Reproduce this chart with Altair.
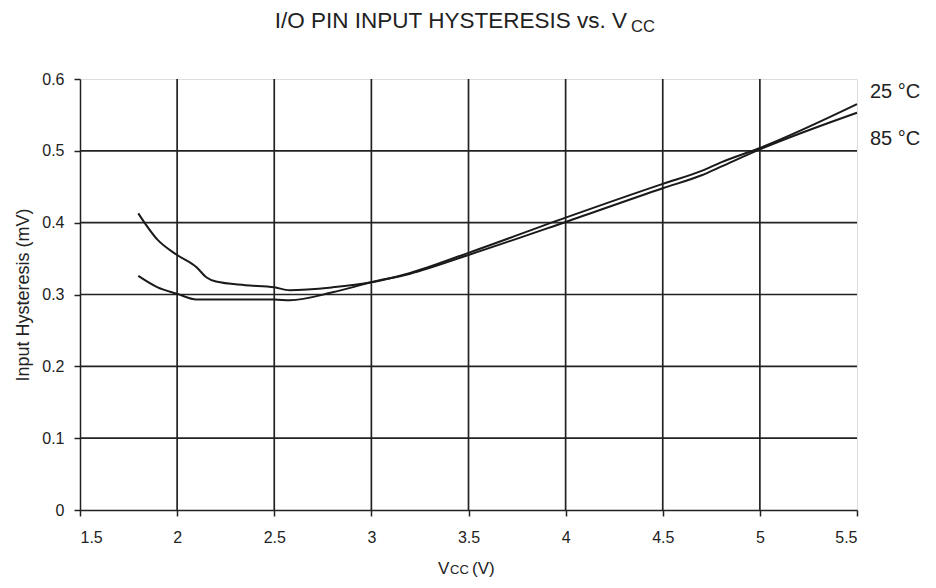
import altair as alt
import pandas as pd

v25 = [1.8, 1.9, 2.0, 2.1, 2.15, 2.2, 2.35, 2.5, 2.58, 2.8, 3.0, 3.2, 3.5, 4.0, 4.5, 4.7, 4.8, 5.0, 5.5]
h25 = [0.413, 0.376, 0.355, 0.338, 0.324, 0.318, 0.313, 0.310, 0.306, 0.310, 0.317, 0.330, 0.358, 0.407, 0.454, 0.472, 0.484, 0.504, 0.565]
v85 = [1.8, 1.9, 2.0, 2.1, 2.5, 2.58, 2.8, 3.0, 3.2, 3.5, 4.0, 4.5, 4.7, 4.8, 5.0, 5.5]
h85 = [0.326, 0.310, 0.301, 0.293, 0.293, 0.292, 0.303, 0.317, 0.329, 0.355, 0.401, 0.448, 0.466, 0.478, 0.502, 0.553]
x_ticks = [1.5, 2, 2.5, 3, 3.5, 4, 4.5, 5, 5.5]
y_ticks = [0, 0.1, 0.2, 0.3, 0.4, 0.5, 0.6]
x_grid = [2, 2.5, 3, 3.5, 4, 4.5, 5]
y_grid = [0.1, 0.2, 0.3, 0.4, 0.5]
series_labels = ["25 °C", "85 °C"]

df = pd.concat([
    pd.DataFrame({"v": v25, "h": h25, "s": series_labels[0]}),
    pd.DataFrame({"v": v85, "h": h85, "s": series_labels[1]}),
])

FONT = "Liberation Sans"
W, H = 777, 431
INK = "#222"

xs = alt.Scale(domain=[1.5, 5.5], nice=False, zero=False)
ys = alt.Scale(domain=[0, 0.6], nice=False)

xaxis = alt.Axis(values=x_ticks, grid=False, domainColor=INK, domainWidth=1.5,
                 tickColor=INK, tickSize=6, tickWidth=1.5, labelPadding=13,
                 labelFont=FONT, labelFontSize=16, labelColor=INK, title=None,
                 labelExpr="format(datum.value, '')")
yaxis = alt.Axis(values=y_ticks, grid=False, domainColor=INK, domainWidth=1.5,
                 tickColor=INK, tickSize=6, tickWidth=1.5, labelPadding=10,
                 labelFont=FONT, labelFontSize=16, labelColor=INK,
                 title="Input Hysteresis (mV)", titleFont=FONT, titleFontSize=18,
                 titleFontWeight="normal", titleColor=INK, titlePadding=9,
                 labelExpr="format(datum.value, '')")

vgrid = alt.Chart(pd.DataFrame({"v": x_grid})).mark_rule(color=INK, strokeWidth=1.7).encode(
    x=alt.X("v:Q", scale=xs, axis=xaxis))
hgrid = alt.Chart(pd.DataFrame({"h": y_grid})).mark_rule(color=INK, strokeWidth=1.7).encode(
    y=alt.Y("h:Q", scale=ys, axis=yaxis))

lines = alt.Chart(df).mark_line(color="#1a1a1a", strokeWidth=2, interpolate="monotone").encode(
    x=alt.X("v:Q", scale=xs, axis=xaxis),
    y=alt.Y("h:Q", scale=ys, axis=yaxis),
    detail="s:N",
)

def txt(text, x, y, size, align="left", baseline="alphabetic"):
    return alt.Chart(pd.DataFrame({"t": [text]})).mark_text(
        font=FONT, fontSize=size, color=INK, align=align, baseline=baseline
    ).encode(text="t:N", x=alt.value(x), y=alt.value(y))

labels = (
    txt(series_labels[0], 790, 19, 20)
    + txt(series_labels[1], 790, 66, 20)
    + txt("I/O PIN INPUT HYSTERESIS vs. V", 547, -51, 22.5, align="right")
    + txt("CC", 551, -47, 16.5)
    + txt("V", 358, 495, 17)
    + txt("CC", 370, 495, 13)
    + txt("(V)", 392, 495, 17)
)

chart = alt.layer(vgrid, hgrid, lines, labels).properties(
    width=W, height=H,
    autosize=alt.AutoSizeParams(type="none"),
    padding={"left": 72, "top": 71, "right": 71, "bottom": 76},
).configure_view(stroke="#999", strokeWidth=1.5).configure(background="white")

chart.save("out.html", embed_options={"renderer": "svg", "actions": False})
